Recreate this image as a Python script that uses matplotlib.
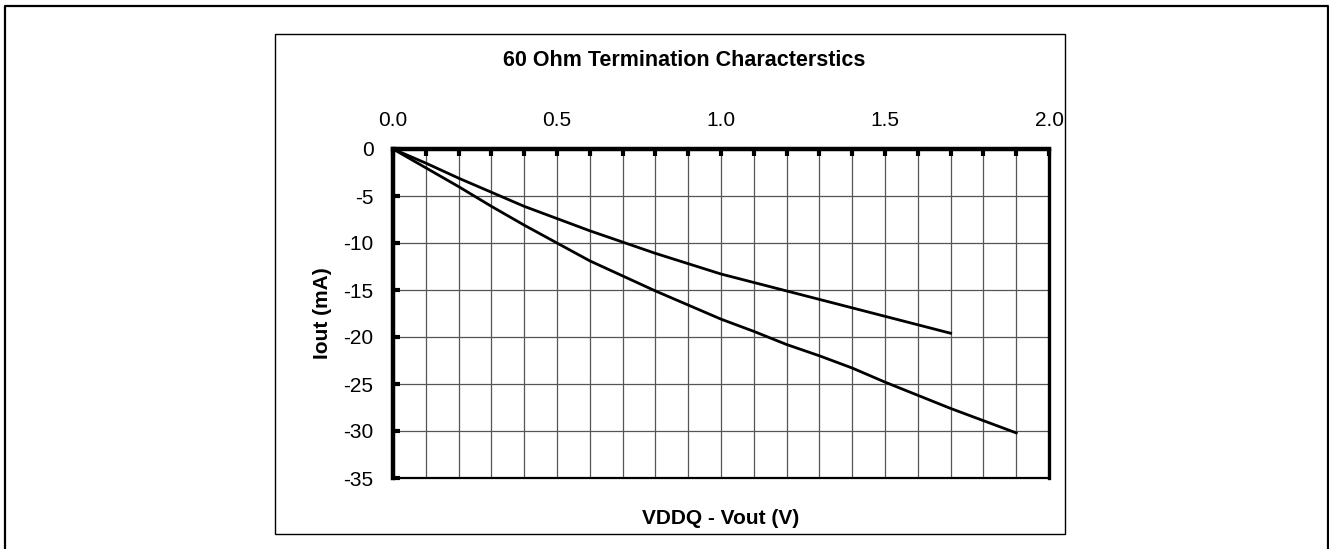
import matplotlib
matplotlib.use("Agg")
import matplotlib.pyplot as plt
from matplotlib.lines import Line2D
from matplotlib.patches import Rectangle
import numpy as np

plt.rcParams['font.family'] = ['Liberation Sans', 'DejaVu Sans']

# VDDQ - Vout (V) sample points for each curve
vout_weak = [0.0, 0.1, 0.2, 0.3, 0.4, 0.5, 0.6, 0.7, 0.8, 0.9,
             1.0, 1.1, 1.2, 1.3, 1.4, 1.5, 1.6, 1.7]
iout_weak = [0, -1.5, -3.1, -4.6, -6.1, -7.4, -8.7, -9.9, -11.1, -12.2,
             -13.3, -14.2, -15.1, -16.0, -16.9, -17.8, -18.7, -19.6]

vout_strong = [0.0, 0.1, 0.2, 0.3, 0.4, 0.5, 0.6, 0.7, 0.8, 0.9,
               1.0, 1.1, 1.2, 1.3, 1.4, 1.5, 1.6, 1.7, 1.8, 1.9]
iout_strong = [0, -2.0, -4.0, -6.1, -8.1, -10.0, -11.9, -13.5, -15.1, -16.6,
               -18.1, -19.4, -20.8, -22.0, -23.3, -24.8, -26.2, -27.6, -28.9, -30.2]

x_labels = ['0.0', '0.5', '1.0', '1.5', '2.0']
y_ticks = [0, -5, -10, -15, -20, -25, -30, -35]

W, H = 1329, 549
fig = plt.figure(figsize=(W / 100, H / 100), dpi=100)

# page frame (open at the bottom) and chart frame
fig.add_artist(Line2D([5 / W, 5 / W, 1327.5 / W, 1327.5 / W],
                      [0, 1 - 6 / H, 1 - 6 / H, 0],
                      transform=fig.transFigure, color='black', lw=1.6))
fig.add_artist(Rectangle((274.5 / W, 1 - 533.5 / H), (1065 - 274.5) / W, (533.5 - 33.5) / H,
                         transform=fig.transFigure, fill=False, ec='black', lw=1.0))

ax = fig.add_axes([393 / W, 1 - 478 / H, (1049 - 393) / W, (478 - 149) / H])
ax.set_xlim(0, 2.0)
ax.set_ylim(-35, 0)

ax.plot(vout_weak, iout_weak, color='black', lw=2.0, solid_joinstyle='round')
ax.plot(vout_strong, iout_strong, color='black', lw=2.0, solid_joinstyle='round')

ax.xaxis.tick_top()
ax.set_xticks(np.arange(0, 2.01, 0.5))
ax.set_xticklabels(x_labels)
ax.set_xticks(np.arange(0, 2.01, 0.1), minor=True)
ax.set_yticks(y_ticks)
ax.set_yticklabels([str(v) for v in y_ticks])

ax.tick_params(axis='x', which='both', direction='in', length=5, width=3,
               labelsize=15, pad=14)
ax.tick_params(axis='y', which='major', direction='in', length=5, width=3,
               labelsize=15, pad=14)

ax.grid(True, which='both', axis='x', color='#555555', lw=0.9)
ax.grid(True, which='major', axis='y', color='#555555', lw=0.9)
ax.set_axisbelow(True)

ax.spines['top'].set_linewidth(3.2)
ax.spines['left'].set_linewidth(3.2)
ax.spines['right'].set_linewidth(2.4)
ax.spines['bottom'].set_linewidth(1.6)

fig.text(684 / W, 1 - 61 / H, '60 Ohm Termination Characterstics',
         ha='center', va='center', fontsize=15.5, fontweight='bold')
fig.text(721 / W, 1 - 518 / H, 'VDDQ - Vout (V)',
         ha='center', va='center', fontsize=15, fontweight='bold')
fig.text(323 / W, 1 - 313 / H, 'Iout (mA)', rotation=90,
         ha='center', va='center', fontsize=15, fontweight='bold')

fig.savefig('out.png', dpi=100)
